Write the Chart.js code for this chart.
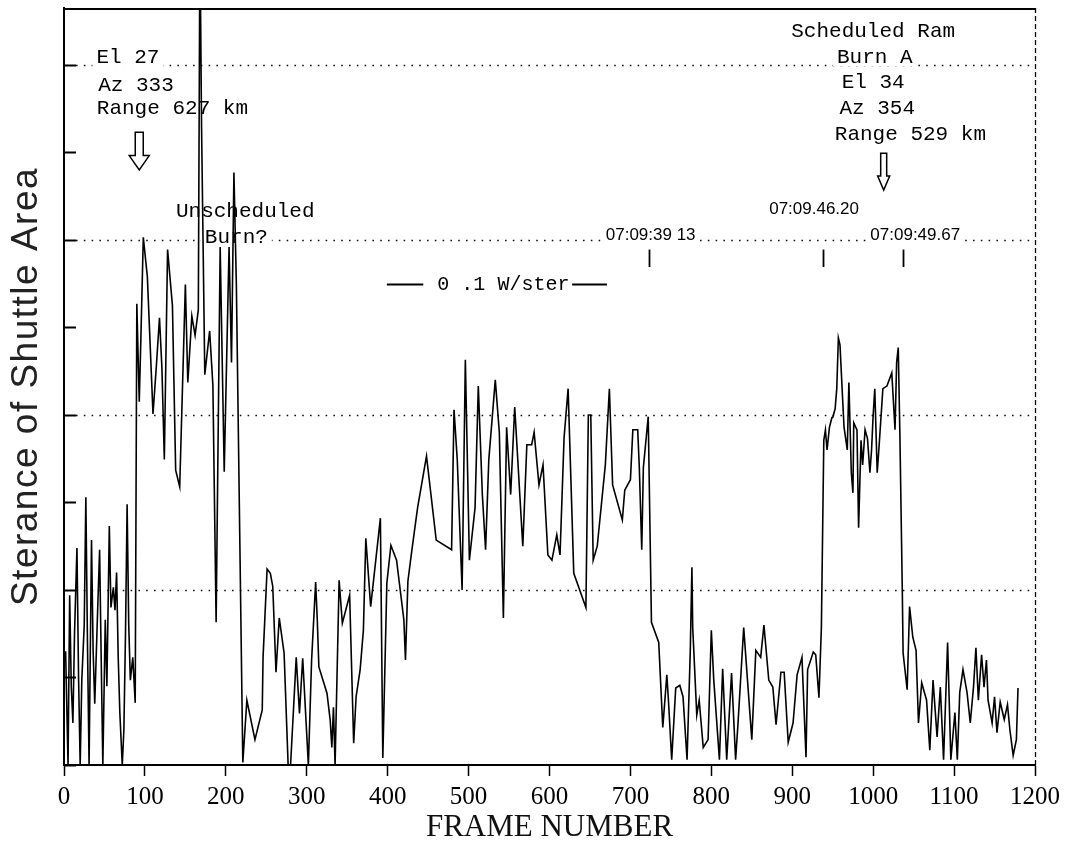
<!DOCTYPE html>
<html>
<head>
<meta charset="utf-8">
<script src="https://cdn.jsdelivr.net/npm/chart.js@4.4.1/dist/chart.umd.min.js"></script>
<style>
  html, body { margin: 0; padding: 0; background: #fff; }
  #wrap { width: 1067px; height: 846px; }
</style>
</head>
<body>
<div id="wrap"><canvas id="c" width="1067" height="846"></canvas></div>
<script>
// ---- data ----
const frames = [
  2,5,7,9,11,13,16,18,20,22,25,27,29,31,34,36,38,41,44,46,48,51,53,56,58,61,63,65,67,69,72,74,76,78,80,82,85,88,
  90,93,95,98,103,110,114,118,121,124,128,134,138,143,150,153,158,162,166,168,170,174,180,184,188,193,198,204,207,210,213,221,
  226,236,245,246,251,255,258,262,266,272,277,280,287,291,295,302,306,311,313,315,325,329,331,333,335,340,344,353,358,361,366,370,373,379,391,394,399,404,411,420,422,425,430,437,448,460,
  479,482,486,492,496,501,508,512,517,521,525,533,538,543,547,552,557,567,572,578,581,587,592,598,603,609,613,618,623,630,645,648,651,654,659,669,674,678,690,693,700,703,709,711,714,716,722,726,
  735,740,745,747,751,756,761,765,770,774,776,777,782,785,790,796,800,803,810,814,819,825,830,833,840,850,855,861,865,871,876,880,886,890,895,901,906,912,917,919,926,929,933,936,
  938,939,941,943,946,949,950,953,955,957,959,962,964,968,970,973,975,976,980,982,985,987,990,993,996,998,1000,1002,1005,1007,1012,1017,1023,1027,1029,1031,1033,
  1036,1037,1042,1045,1049,1053,1056,1060,1066,1070,1074,1079,1083,1087,1092,1096,1101,1104,1107,1111,1116,1120,1124,1127,1130,1134,1137,1140,1142,1147,1150,1153,1157,1162,1166,1169,1173,1177,1179
];
const sterance = [
  1.3,0,1.94,0.9,0.48,1.5,2.48,1.0,0,0.97,1.6,3.06,1.4,0,2.57,1.3,0.7,1.6,2.46,1.2,0,1.66,0.9,2.73,1.8,2.03,1.77,2.2,1.23,0.6,0,0.4,1.5,2.98,1.6,0.97,1.23,0.71,
  5.27,4.15,4.87,6.03,5.58,4.01,4.54,5.11,4.54,3.49,5.89,5.25,3.37,3.18,5.49,4.37,5.13,4.91,5.2,9.5,7.29,4.46,4.96,4.34,1.63,5.92,3.35,5.92,4.6,6.77,5.5,0.03,
  0.74,0.29,0.63,1.23,2.24,2.19,2.04,1.06,1.68,1.28,0,0,1.23,0.59,1.22,0,1.2,2.09,1.66,1.12,0.82,0.51,0.2,0.66,0,2.11,1.62,1.94,0.25,0.78,1.09,1.54,2.59,1.81,2.82,0.08,2.08,2.51,2.34,1.66,1.2,2.1,2.46,2.94,3.53,2.57,
  2.46,4.06,3.49,2.0,4.63,2.34,2.94,4.33,3.09,2.46,3.49,4.4,3.8,1.68,3.86,3.09,4.09,2.5,3.66,3.66,3.8,3.2,3.43,2.4,2.34,2.63,2.4,3.74,4.3,2.19,1.8,4.0,4.0,2.34,2.5,3.43,4.3,3.2,2.8,3.14,3.26,3.83,3.83,3.4,2.46,3.4,3.98,1.63,
  1.4,0.43,1.03,0.74,0.06,0.88,0.91,0.78,0.06,1.31,2.26,1.57,0.57,0.74,0.2,0.29,1.54,0.97,0.06,1.1,0.06,1.05,0.06,0.48,1.57,0.29,1.31,1.23,1.6,0.97,0.89,0.46,1.06,1.06,0.26,0.48,1.03,1.23,0.09,1.09,1.29,1.26,0.77,1.57,
  3.0,3.71,3.83,3.6,3.86,3.97,3.97,4.07,4.3,4.88,4.8,4.23,3.86,3.6,4.37,3.34,3.11,3.91,3.83,2.71,3.71,3.43,3.83,3.73,3.34,3.6,4.0,4.3,3.34,3.6,4.3,4.33,4.48,3.83,4.6,4.77,3.79,
  2.0,1.28,0.86,1.81,1.46,1.31,0.48,0.94,0.74,0.17,0.97,0.32,0.89,0.06,1.4,0.06,0.6,0.06,0.83,1.09,0.83,0.48,0.89,1.34,0.74,1.26,0.89,1.2,0.74,0.48,0.78,0.37,0.72,0.52,0.69,0.4,0.11,0.29,0.88
];
const xMin = 0, xMax = 1200, xStep = 100;
const yMin = 0, yMax = 8.65;
const yTickValues = [0,1,2,3,4,5,6,7,8];
const gridValues = [2,4,6,8];

const xTitle = 'FRAME NUMBER';
const yTitle = 'Sterance of Shuttle Area';

// annotations (text, frame, sterance)
const noteTexts = ['El 27','Az 333','Range 627 km','Unscheduled','Burn?','Scheduled Ram','Burn A','El 34','Az 354','Range 529 km'];
const noteX     = [79, 89, 134, 224, 213, 1000, 1002, 1000, 1005, 1046];
const noteY     = [8.08, 7.77, 7.5, 6.33, 6.03, 8.38, 8.09, 7.8, 7.5, 7.2];
const noteMask  = [true,false,false,false,true,false,true,false,false,false];
const timeTexts = ['07:09:39 13','07:09.46.20','07:09:49.67'];
const timeX     = [725, 927, 1052];
const timeY     = [6.05, 6.35, 6.05];
const timeMask  = [true, false, true];
const markX     = [723, 938, 1037];
const markY     = [5.89, 5.69];
const arrowX    = [93, 1013];
const arrowTop  = [7.23, 6.99];
const arrowBot  = [6.8, 6.57];
const scaleText = '0 .1 W/ster';
const scaleTextX = 543, scaleY = 5.5;
const scaleBarL = [399, 444], scaleBarR = [628, 671];

const points = frames.map((f, i) => ({x: f, y: sterance[i]}));

const monoFont = '21px "Liberation Mono", "DejaVu Sans Mono", monospace';
const timeFont = '17px "Liberation Sans", Arial, sans-serif';

const deco = {
  id: 'deco',
  beforeDatasetsDraw(chart) {
    const {ctx, chartArea: a, scales: {x, y}} = chart;
    ctx.save();
    // dotted gridlines
    ctx.strokeStyle = '#111';
    ctx.lineWidth = 1.4;
    ctx.setLineDash([1.6, 6.2]);
    gridValues.forEach(v => {
      const py = Math.round(y.getPixelForValue(v)) + 0.5;
      ctx.beginPath(); ctx.moveTo(a.left + 12, py); ctx.lineTo(a.right, py); ctx.stroke();
    });
    ctx.setLineDash([]);
    // white gaps where labels sit on gridlines
    ctx.fillStyle = '#fff';
    ctx.font = monoFont;
    noteTexts.forEach((t, i) => {
      if (!noteMask[i]) return;
      const w = ctx.measureText(t).width + 8;
      ctx.fillRect(x.getPixelForValue(noteX[i]) - w/2, y.getPixelForValue(noteY[i]) - 9, w, 18);
    });
    ctx.font = timeFont;
    timeTexts.forEach((t, i) => {
      if (!timeMask[i]) return;
      const w = ctx.measureText(t).width + 8;
      ctx.fillRect(x.getPixelForValue(timeX[i]) - w/2, y.getPixelForValue(timeY[i]) - 9, w, 18);
    });
    ctx.restore();
  },
  afterDraw(chart) {
    const {ctx, chartArea: a, scales: {x, y}} = chart;
    ctx.save();
    ctx.strokeStyle = '#000';
    // top border
    ctx.lineWidth = 2;
    ctx.beginPath(); ctx.moveTo(a.left, a.top + 1); ctx.lineTo(a.right, a.top + 1); ctx.stroke();
    // right border (dashed)
    ctx.lineWidth = 1.3;
    ctx.setLineDash([5, 3]);
    ctx.beginPath(); ctx.moveTo(a.right + 0.5, a.top); ctx.lineTo(a.right + 0.5, a.bottom); ctx.stroke();
    ctx.setLineDash([]);
    // inward y ticks
    ctx.lineWidth = 2;
    yTickValues.forEach(v => {
      const py = Math.round(y.getPixelForValue(v)) + 0.5;
      ctx.beginPath(); ctx.moveTo(a.left, py); ctx.lineTo(a.left + 12, py); ctx.stroke();
    });
    // text notes
    ctx.fillStyle = '#000';
    ctx.textAlign = 'center';
    ctx.textBaseline = 'middle';
    ctx.font = monoFont;
    noteTexts.forEach((t, i) => ctx.fillText(t, x.getPixelForValue(noteX[i]), y.getPixelForValue(noteY[i])));
    ctx.font = timeFont;
    timeTexts.forEach((t, i) => ctx.fillText(t, x.getPixelForValue(timeX[i]), y.getPixelForValue(timeY[i])));
    // small time marks
    ctx.lineWidth = 1.8;
    markX.forEach(m => {
      const px = Math.round(x.getPixelForValue(m)) + 0.5;
      ctx.beginPath(); ctx.moveTo(px, y.getPixelForValue(markY[0])); ctx.lineTo(px, y.getPixelForValue(markY[1])); ctx.stroke();
    });
    // hollow arrows
    ctx.lineWidth = 1.5;
    ctx.fillStyle = '#fff';
    arrowX.forEach((ax, i) => {
      const cx = x.getPixelForValue(ax);
      const t = y.getPixelForValue(arrowTop[i]);
      const b = y.getPixelForValue(arrowBot[i]);
      const sw = i === 0 ? 4 : 3, hw = i === 0 ? 10 : 6;
      const hy = t + (b - t) * 0.62;
      ctx.beginPath();
      ctx.moveTo(cx - sw, t); ctx.lineTo(cx + sw, t); ctx.lineTo(cx + sw, hy); ctx.lineTo(cx + hw, hy);
      ctx.lineTo(cx, b); ctx.lineTo(cx - hw, hy); ctx.lineTo(cx - sw, hy); ctx.closePath();
      ctx.fill(); ctx.stroke();
    });
    // scale bar
    ctx.fillStyle = '#000';
    ctx.font = '20px "Liberation Mono", "DejaVu Sans Mono", monospace';
    const sy = Math.round(y.getPixelForValue(scaleY)) + 0.5;
    ctx.fillText(scaleText, x.getPixelForValue(scaleTextX), sy);
    ctx.lineWidth = 2;
    [scaleBarL, scaleBarR].forEach(s => {
      ctx.beginPath(); ctx.moveTo(x.getPixelForValue(s[0]), sy); ctx.lineTo(x.getPixelForValue(s[1]), sy); ctx.stroke();
    });
    // y title
    ctx.save();
    ctx.translate(a.left - 27, (a.top + a.bottom) / 2);
    ctx.rotate(-Math.PI / 2);
    ctx.font = '37px "Liberation Sans", Arial, sans-serif';
    if ('letterSpacing' in ctx) ctx.letterSpacing = '1.5px';
    ctx.fillStyle = '#222';
    ctx.textAlign = 'center';
    ctx.textBaseline = 'alphabetic';
    ctx.fillText(yTitle, 0, 0);
    ctx.restore();
    ctx.restore();
  }
};

new Chart(document.getElementById('c'), {
  type: 'line',
  data: {
    datasets: [{
      data: points,
      borderColor: '#000',
      borderWidth: 1.6,
      pointRadius: 0,
      tension: 0,
      fill: false
    }]
  },
  options: {
    responsive: false,
    animation: false,
    events: [],
    layout: { padding: { left: 0, right: 32, top: 8, bottom: 0 } },
    plugins: { legend: { display: false }, tooltip: { enabled: false } },
    scales: {
      x: {
        type: 'linear',
        min: xMin, max: xMax,
        afterFit: s => { s.height = 81; },
        ticks: {
          stepSize: xStep,
          color: '#000',
          padding: 6,
          maxRotation: 0,
          callback: v => String(v),
          font: { family: '"Liberation Serif", "DejaVu Serif", serif', size: 25 }
        },
        grid: { drawOnChartArea: false, drawTicks: true, tickLength: 11, tickWidth: 1.5, tickColor: '#000', color: '#000' },
        border: { display: true, color: '#000', width: 2 },
        title: {
          display: true, text: xTitle, color: '#111',
          font: { family: '"Liberation Serif", "DejaVu Serif", serif', size: 31 },
          padding: { top: 0, bottom: 0 }
        }
      },
      y: {
        type: 'linear',
        min: yMin, max: yMax,
        afterFit: s => { s.width = 64; },
        ticks: { display: false, stepSize: 1 },
        grid: { display: false },
        border: { display: true, color: '#000', width: 2 },
        title: { display: false }
      }
    }
  },
  plugins: [deco]
});
</script>
</body>
</html>
